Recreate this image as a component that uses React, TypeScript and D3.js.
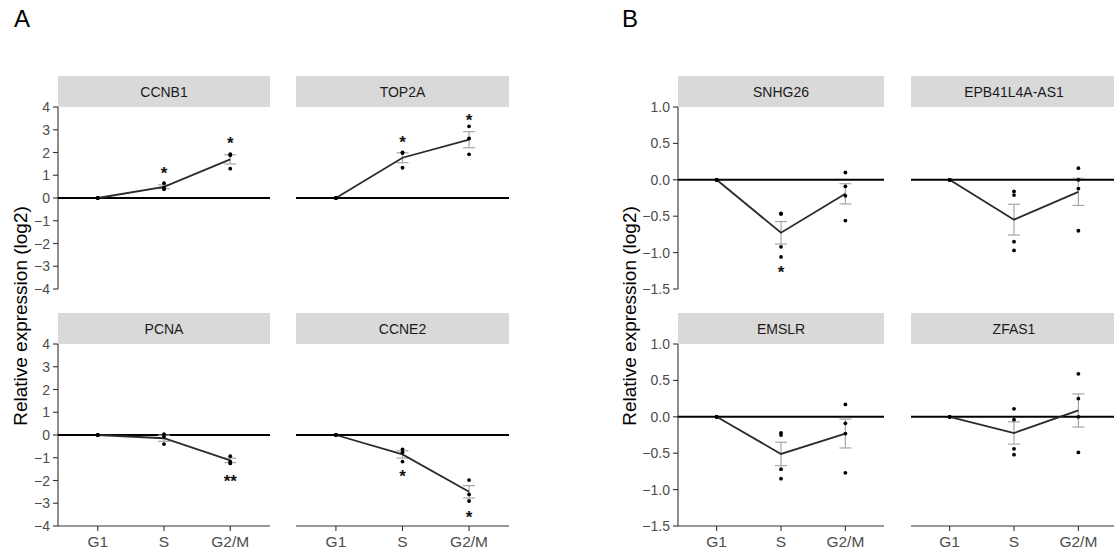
import React from "react";
import * as d3 from "d3";

// Cell-cycle phases on the x axis
const phases = ["G1", "S", "G2/M"];

// Replicate log2 expression values, one array per phase (G1, S, G2/M)
const ccnb1 = [[0, 0, 0], [0.65, 0.45, 0.38], [1.93, 1.88, 1.29]];
const top2a = [[0, 0, 0], [2.0, 1.98, 1.33], [3.15, 2.62, 1.92]];
const pcna = [[0, 0, 0], [0.04, -0.07, -0.4], [-0.93, -1.17, -1.25]];
const ccne2 = [[0, 0, 0], [-0.63, -0.76, -1.17], [-1.98, -2.61, -2.9]];

const snhg26 = [[0, 0, 0, 0], [-0.46, -0.47, -0.92, -1.06], [0.1, -0.09, -0.22, -0.56]];
const epb41l4aAs1 = [[0, 0, 0, 0], [-0.16, -0.21, -0.85, -0.97], [0.16, 0.0, -0.12, -0.7]];
const emslr = [[0, 0, 0, 0], [-0.22, -0.25, -0.72, -0.85], [0.17, -0.09, -0.23, -0.77]];
const zfas1 = [[0, 0, 0, 0], [0.11, -0.04, -0.44, -0.52], [0.59, 0.25, 0.0, -0.49]];

// Significance marks: [phase, label, y position in data units]
const sigCcnb1 = [["S", "*", 1.26], ["G2/M", "*", 2.58]];
const sigTop2a = [["S", "*", 2.62], ["G2/M", "*", 3.57]];
const sigPcna = [["G2/M", "**", -1.88]];
const sigCcne2 = [["S", "*", -1.66], ["G2/M", "*", -3.44]];
const sigSnhg26 = [["S", "*", -1.22]];
const sigNone: any[] = [];

// Y axis ticks
const ticksA = [4, 3, 2, 1, 0, -1, -2, -3, -4];
const ticksB = [1.0, 0.5, 0.0, -0.5, -1.0, -1.5];

const FONT = "'Liberation Sans', Arial, Helvetica, sans-serif";

type PanelProps = {
  title: string;
  values: number[][];
  sig: any[];
  x0: number;
  x1: number;
  top: number;
  bottom: number;
  domain: [number, number];
  ticks: number[];
  tickFmt: (v: number) => string;
  showY: boolean;
  showX: boolean;
};

function Panel(p: PanelProps) {
  const stripH = 31;
  const x = d3.scalePoint<string>().domain(phases).range([p.x0, p.x1]).padding(0.6);
  const y = d3.scaleLinear().domain(p.domain).range([p.bottom, p.top]);

  const stats = p.values.map((vals, i) => {
    const m = d3.mean(vals) as number;
    const sd = vals.length > 1 ? (d3.deviation(vals) as number) : 0;
    const se = sd / Math.sqrt(vals.length);
    return { phase: phases[i], mean: m, se };
  });

  const line = d3
    .line<{ phase: string; mean: number }>()
    .x((d) => x(d.phase) as number)
    .y((d) => y(d.mean));

  const cx = (p.x0 + p.x1) / 2;
  const capW = 6;

  return (
    <g>
      {/* strip */}
      <rect x={p.x0} y={p.top - stripH} width={p.x1 - p.x0} height={stripH} fill="#d9d9d9" />
      <text
        x={cx}
        y={p.top - stripH / 2}
        textAnchor="middle"
        dominantBaseline="central"
        fontSize={14}
        fill="#1a1a1a"
        fontFamily={FONT}
      >
        {p.title}
      </text>

      {/* y axis */}
      {p.showY && (
        <g>
          <line x1={p.x0} x2={p.x0} y1={p.top} y2={p.bottom} stroke="#333" strokeWidth={1.1} />
          {p.ticks.map((t) => (
            <g key={t}>
              <line x1={p.x0 - 5} x2={p.x0} y1={y(t)} y2={y(t)} stroke="#333" strokeWidth={1.1} />
              <text
                x={p.x0 - 8}
                y={y(t)}
                textAnchor="end"
                dominantBaseline="central"
                fontSize={14}
                fill="#4d4d4d"
                fontFamily={FONT}
              >
                {p.tickFmt(t)}
              </text>
            </g>
          ))}
        </g>
      )}

      {/* x axis */}
      {p.showX && (
        <g>
          <line x1={p.x0} x2={p.x1} y1={p.bottom} y2={p.bottom} stroke="#333" strokeWidth={1.1} />
          {phases.map((ph) => (
            <g key={ph}>
              <line x1={x(ph)} x2={x(ph)} y1={p.bottom} y2={p.bottom + 5} stroke="#333" strokeWidth={1.1} />
              <text
                x={x(ph)}
                y={p.bottom + 21}
                textAnchor="middle"
                fontSize={15.5}
                fill="#4d4d4d"
                fontFamily={FONT}
              >
                {ph}
              </text>
            </g>
          ))}
        </g>
      )}

      {/* zero reference line */}
      <line x1={p.x0} x2={p.x1} y1={y(0)} y2={y(0)} stroke="#000" strokeWidth={1.9} />

      {/* error bars (mean ± SEM) */}
      {stats
        .filter((s) => s.se > 0)
        .map((s) => {
          const px = x(s.phase) as number;
          return (
            <g key={"e" + s.phase} stroke="#a6a6a6" strokeWidth={1.2}>
              <line x1={px} x2={px} y1={y(s.mean - s.se)} y2={y(s.mean + s.se)} />
              <line x1={px - capW} x2={px + capW} y1={y(s.mean - s.se)} y2={y(s.mean - s.se)} />
              <line x1={px - capW} x2={px + capW} y1={y(s.mean + s.se)} y2={y(s.mean + s.se)} />
            </g>
          );
        })}

      {/* mean trajectory */}
      <path d={line(stats) as string} fill="none" stroke="#2b2b2b" strokeWidth={1.8} />

      {/* replicates */}
      {p.values.map((vals, i) =>
        vals.map((v, j) => (
          <circle key={i + "-" + j} cx={x(phases[i]) as number} cy={y(v)} r={1.9} fill="#000" />
        ))
      )}

      {/* significance */}
      {p.sig.map(([ph, lab, v]) => (
        <text
          key={"s" + ph}
          x={x(ph) as number}
          y={y(v) + 9.5}
          textAnchor="middle"
          fontSize={17}
          fontWeight="bold"
          fill="#111"
          fontFamily={FONT}
        >
          {lab}
        </text>
      ))}
    </g>
  );
}

export default function App() {
  const W = 1114;
  const H = 554;
  const row1 = { top: 107, bottom: 289 };
  const row2 = { top: 344, bottom: 526 };
  const colA = [
    [58, 270],
    [296, 509],
  ];
  const colB = [
    [678, 884],
    [911, 1117],
  ];
  const fmtA = (v: number) => d3.format("d")(v);
  const fmtB = (v: number) => d3.format(".1f")(v);
  const domA: [number, number] = [-4, 4];
  const domB: [number, number] = [-1.5, 1.0];

  const panelsA = [
    { title: "CCNB1", values: ccnb1, sig: sigCcnb1, col: 0, row: row1 },
    { title: "TOP2A", values: top2a, sig: sigTop2a, col: 1, row: row1 },
    { title: "PCNA", values: pcna, sig: sigPcna, col: 0, row: row2 },
    { title: "CCNE2", values: ccne2, sig: sigCcne2, col: 1, row: row2 },
  ];
  const panelsB = [
    { title: "SNHG26", values: snhg26, sig: sigSnhg26, col: 0, row: row1 },
    { title: "EPB41L4A-AS1", values: epb41l4aAs1, sig: sigNone, col: 1, row: row1 },
    { title: "EMSLR", values: emslr, sig: sigNone, col: 0, row: row2 },
    { title: "ZFAS1", values: zfas1, sig: sigNone, col: 1, row: row2 },
  ];

  return (
    <svg
      width={W}
      height={H}
      viewBox={`0 0 ${W} ${H}`}
      style={{ position: "absolute", left: 0, top: 0, background: "#fff" }}
    >
      <rect width={W} height={H} fill="#fff" />
      <text x={14} y={27} fontSize={24} fontFamily={FONT} fill="#000">
        A
      </text>
      <text x={622} y={27} fontSize={24} fontFamily={FONT} fill="#000">
        B
      </text>

      <text
        transform={`translate(27,316) rotate(-90)`}
        textAnchor="middle"
        fontSize={19}
        fontFamily={FONT}
        fill="#000"
      >
        Relative expression (log2)
      </text>
      <text
        transform={`translate(636,316) rotate(-90)`}
        textAnchor="middle"
        fontSize={19}
        fontFamily={FONT}
        fill="#000"
      >
        Relative expression (log2)
      </text>

      {panelsA.map((pa) => (
        <Panel
          key={pa.title}
          title={pa.title}
          values={pa.values}
          sig={pa.sig}
          x0={colA[pa.col][0]}
          x1={colA[pa.col][1]}
          top={pa.row.top}
          bottom={pa.row.bottom}
          domain={domA}
          ticks={ticksA}
          tickFmt={fmtA}
          showY={pa.col === 0}
          showX={pa.row === row2}
        />
      ))}
      {panelsB.map((pb) => (
        <Panel
          key={pb.title}
          title={pb.title}
          values={pb.values}
          sig={pb.sig}
          x0={colB[pb.col][0]}
          x1={colB[pb.col][1]}
          top={pb.row.top}
          bottom={pb.row.bottom}
          domain={domB}
          ticks={ticksB}
          tickFmt={fmtB}
          showY={pb.col === 0}
          showX={pb.row === row2}
        />
      ))}
    </svg>
  );
}
